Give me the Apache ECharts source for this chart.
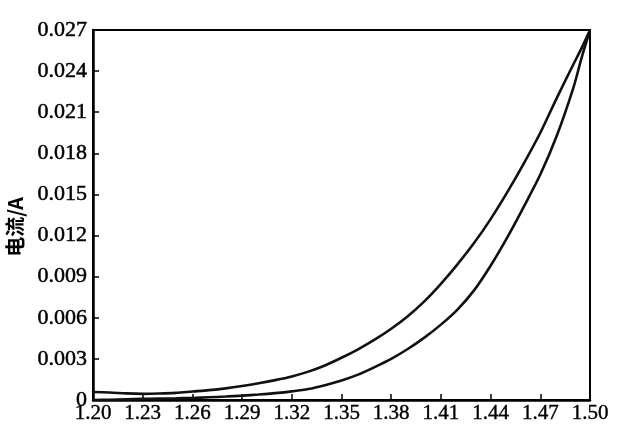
<!DOCTYPE html>
<html>
<head>
<meta charset="utf-8">
<script src="https://cdn.jsdelivr.net/npm/echarts@6/dist/echarts.min.js"></script>
<style>html,body{margin:0;padding:0;background:#fff}#c{width:624px;height:428px}</style>
</head>
<body>
<div id="c"></div>
<script>
// Voltage (V) sample positions
var voltage = [1.200,1.210,1.220,1.230,1.240,1.250,1.260,1.270,1.280,1.290,1.300,1.310,1.320,1.330,1.340,1.350,1.360,1.370,1.380,1.390,1.400,1.410,1.420,1.430,1.440,1.450,1.460,1.470,1.480,1.490,1.495,1.500];
// Upper branch current (A)
var upperCurrent = [0.00058,0.00055,0.00048,0.00045,0.00047,0.00052,0.00062,0.00072,0.00085,0.00102,0.00122,0.00145,0.00172,0.00207,0.00252,0.00308,0.00370,0.00440,0.00520,0.00612,0.00720,0.00848,0.00990,0.01145,0.01320,0.01515,0.01725,0.01950,0.02205,0.02450,0.02570,0.02700];
// Lower branch current (A)
var lowerCurrent = [0.00000,0.00002,0.00005,0.00008,0.00010,0.00012,0.00015,0.00020,0.00025,0.00032,0.00040,0.00050,0.00063,0.00080,0.00108,0.00142,0.00185,0.00240,0.00300,0.00372,0.00455,0.00550,0.00660,0.00800,0.00980,0.01185,0.01410,0.01645,0.01930,0.02280,0.02500,0.02700];
var yAxisName = '电流/A';

function pairs(xs, ys){ return xs.map(function(x,i){ return [x, ys[i]]; }); }

var chart = echarts.init(document.getElementById('c'), null, {renderer:'canvas'});
var lineStyle = {color:'#111', width:2.6};
chart.setOption({
  animation:false,
  backgroundColor:'#fff',
  grid:{left:93, right:34, top:30, bottom:28, show:true, borderColor:'#000', borderWidth:2, backgroundColor:'transparent'},
  xAxis:{
    type:'value', min:1.2, max:1.5, interval:0.03,
    axisLine:{show:true, lineStyle:{color:'#000', width:2.5}},
    axisTick:{show:true, inside:true, length:6, lineStyle:{color:'#000', width:1.5}},
    axisLabel:{color:'#000', fontFamily:'Liberation Serif', fontSize:21, margin:3, textBorderColor:'#000', textBorderWidth:0.4, formatter:function(v){return v.toFixed(2);}},
    splitLine:{show:false}
  },
  yAxis:{
    type:'value', min:0, max:0.027, interval:0.003,
    axisLine:{show:true, lineStyle:{color:'#000', width:2.5}},
    axisTick:{show:true, inside:true, length:6, lineStyle:{color:'#000', width:1.5}},
    axisLabel:{color:'#000', fontFamily:'Liberation Serif', fontSize:22, margin:6, textBorderColor:'#000', textBorderWidth:0.5, formatter:function(v){return v===0?'0':v.toFixed(3);}},
    splitLine:{show:false}
  },
  graphic:[{
    type:'text', x:15, y:227, rotation:Math.PI/2,
    style:{text:yAxisName, fill:'#000', font:'bold 20px "Noto Sans CJK SC", sans-serif', align:'center', verticalAlign:'middle'}
  }],
  series:[
    {type:'line', data:pairs(voltage, upperCurrent), showSymbol:false, smooth:0.3, lineStyle:lineStyle},
    {type:'line', data:pairs(voltage, lowerCurrent), showSymbol:false, smooth:0.3, lineStyle:lineStyle}
  ]
});
</script>
</body>
</html>
